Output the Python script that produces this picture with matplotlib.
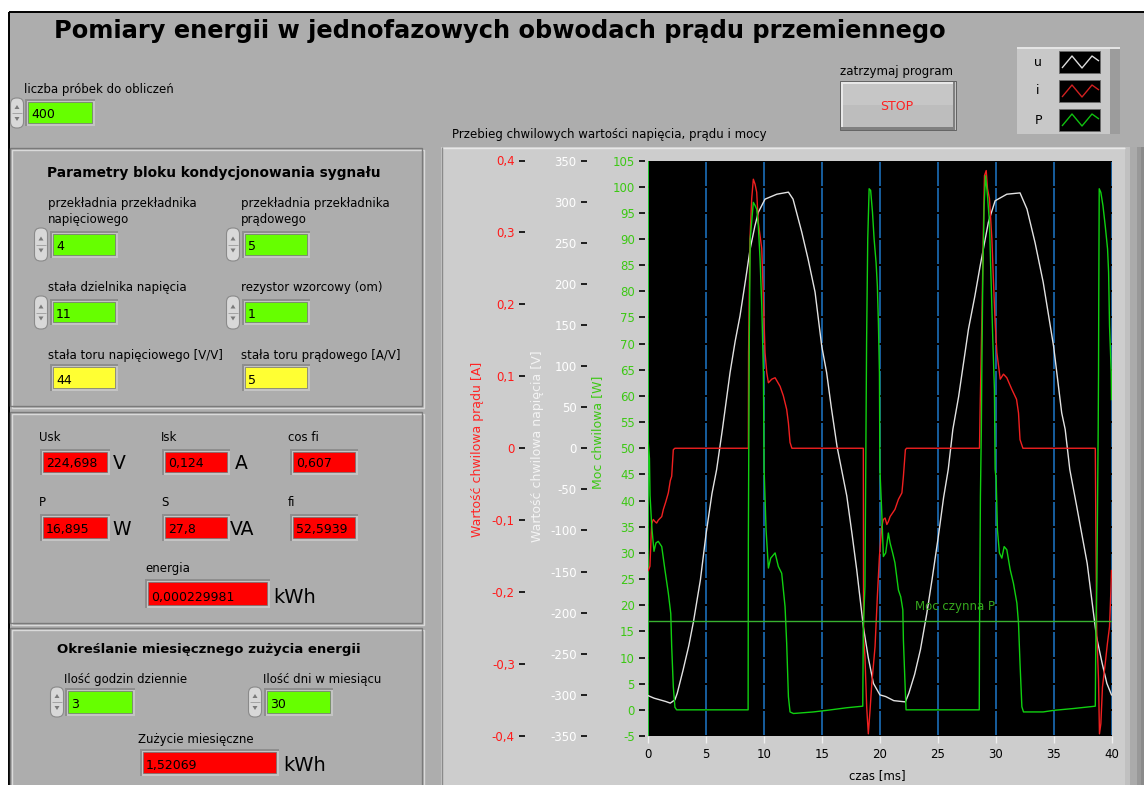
import matplotlib
matplotlib.use('Agg')
import matplotlib.pyplot as plt
from matplotlib.patches import Rectangle, FancyBboxPatch, Polygon
from matplotlib.ticker import MultipleLocator, FuncFormatter

# ---------------- data ----------------
t_u = [0.0, 0.5, 1.0, 1.5, 1.9, 2.3, 2.5, 3.0, 3.5, 3.9, 4.5, 5.0, 5.5, 5.9, 6.4,
       7.06, 7.5, 7.92, 8.4, 8.79, 9.2, 9.5, 10.08, 11.1, 12.1, 12.5, 13.25, 13.8,
       14.4, 14.98, 15.4, 15.8, 16.3, 17.14, 17.6, 18.0, 18.57, 19.0, 19.44, 20.0,
       20.5, 21.2, 22.2, 22.5, 23.0, 23.5, 24.05, 24.5, 25.05, 25.5, 25.9, 26.3,
       26.8, 27.65, 28.2, 28.66, 29.37, 29.95, 30.96, 32.1, 32.7, 33.4, 34.1, 35.0,
       35.7, 36.0, 36.4, 37.0, 37.9, 38.7, 39.2, 39.6, 40.0]
u_vals = [-301, -304, -306, -308, -310, -306, -298, -270, -240, -211, -160, -103, -55, -26, 23,
          92, 130, 161, 205, 242, 270, 287, 303, 309, 311.5, 303, 263, 230,
          190, 124, 92, 50, 2, -58, -105, -148, -217, -255, -286, -300,
          -302, -307, -308.5, -298, -275, -245, -201, -160, -107, -60, -26, 23,
          63, 145, 185, 222, 275, 301, 309, 310.6, 291, 250, 202, 124,
          43, 23, -26, -71, -140, -229, -262, -286, -300]

t_i = [0.0, 0.14, 0.29, 0.43, 0.58, 0.72, 0.86, 1.16, 1.3, 1.5, 1.73, 1.9, 2.02, 2.16, 2.3,
       8.64, 8.66, 8.78, 8.93, 9.07, 9.22, 9.36, 9.5, 9.8, 9.94, 10.08, 10.23, 10.37,
       10.66, 10.95, 11.38, 11.66, 11.95, 12.1, 12.24, 12.4,
       18.57, 18.59, 18.71, 18.86, 19.0, 19.15, 19.3, 19.58, 19.78, 19.96, 20.16, 20.3,
       20.45, 20.6, 20.73, 20.88, 21.3, 21.6, 21.9, 22.03, 22.2, 22.3,
       28.6, 28.66, 28.8, 28.95, 29.03, 29.18, 29.29, 29.46, 29.67, 29.8, 29.95, 30.1,
       30.39, 30.67, 30.96, 31.39, 31.8, 31.97, 32.1, 32.35,
       38.6, 38.65, 38.72, 38.88, 38.96, 39.08, 39.22, 39.46, 39.65, 39.83, 39.95, 40.0]
i_vals = [-0.17, -0.164, -0.105, -0.099, -0.102, -0.104, -0.100, -0.095, -0.085, -0.075, -0.062, -0.045, -0.039, -0.002, 0.0,
          0.0, 0.133, 0.291, 0.347, 0.374, 0.367, 0.356, 0.314, 0.277, 0.207, 0.133, 0.105, 0.091,
          0.096, 0.098, 0.086, 0.073, 0.054, 0.035, 0.008, 0.0,
          0.0, -0.262, -0.29, -0.36, -0.397, -0.364, -0.327, -0.276, -0.206, -0.15, -0.109, -0.099,
          -0.097, -0.106, -0.102, -0.095, -0.085, -0.071, -0.062, -0.039, -0.002, 0.0,
          0.0, 0.059, 0.175, 0.314, 0.379, 0.386, 0.361, 0.347, 0.291, 0.235, 0.175, 0.133,
          0.096, 0.103, 0.098, 0.082, 0.068, 0.049, 0.012, 0.0,
          0.0, -0.113, -0.253, -0.322, -0.397, -0.383, -0.332, -0.299, -0.271, -0.248, -0.197, -0.17]

t_p = [0.0, 0.1, 0.15, 0.3, 0.38, 0.49, 0.66, 0.86, 1.16, 1.44, 1.73, 1.94, 2.02, 2.16, 2.3, 2.45,
       8.62, 8.64, 8.72, 8.8, 9.07, 9.22, 9.36, 9.5, 9.65, 9.8, 9.94, 10.0, 10.17, 10.37, 10.57,
       10.95, 11.23, 11.52, 11.81, 11.95, 12.1, 12.24, 12.53, 14.26, 15.41, 17.14, 18.52,
       18.57, 18.71, 18.8, 18.85, 18.95, 19.07, 19.2, 19.36, 19.5, 19.67, 19.78, 19.87, 19.96,
       20.0, 20.16, 20.3, 20.5, 20.73, 20.88, 21.1, 21.3, 21.6, 21.8, 21.98, 22.03, 22.18, 22.26,
       28.58, 28.6, 28.68, 28.76, 28.8, 28.89, 29.0, 29.12, 29.29, 29.46, 29.58, 29.75, 29.89,
       29.95, 30.04, 30.15, 30.32, 30.53, 30.73, 30.96, 31.25, 31.53, 31.83, 31.97, 32.1, 32.26,
       32.4, 34.1, 35.0, 36.7, 38.6, 38.65, 38.74, 38.8, 38.85, 38.88, 38.9, 38.94, 39.08,
       39.26, 39.46, 39.66, 39.75, 39.83, 39.98, 40.0]
p_vals = [51, 48, 41, 35, 33, 30.3, 31.9, 32.2, 31.2, 26.7, 22.3, 18.4, 12.1, 4.4, 0.5, 0.0,
          0.0, 31.9, 70.8, 90, 97, 96.4, 95.7, 92.5, 86.2, 77.2, 64.4, 46, 34.4, 27.1, 29.0,
          30.0, 27.4, 26.1, 19.7, 12.7, 2.5, -0.4, -0.7, -0.4, -0.1, 0.4, 0.7,
          15.9, 23.6, 53.6, 70.2, 90, 99.6, 99.3, 95.1, 90, 85.5, 81.0, 74.0, 64.4,
          46, 37.7, 29.3, 30.0, 33.8, 31.9, 30.0, 28.1, 22.9, 21.6, 19.1, 13.3, 4.4, 0.0,
          0.0, 14, 40.8, 53.6, 64.4, 83.6, 96.4, 102.1, 98.3, 93.2, 83.6, 70.8, 61.2,
          46, 44, 34.4, 30.0, 29.0, 31.2, 30.6, 26.8, 24.2, 20.4, 16.5, 8.9, 0.6,
          -0.4, -0.4, -0.1, 0.25, 0.7, 14.6, 24.8, 40.8, 53.6, 64.4, 78.5, 99.6, 98.9,
          96.4, 92.5, 88.1, 83.6, 73.4, 64.4, 59.3]

P_active = 16.895

# front panel values
liczba_probek = "400"
przekl_nap = "4"
przekl_prad = "5"
stala_dziel = "11"
rezystor = "1"
stala_u = "44"
stala_i = "5"
Usk = "224,698"
Isk = "0,124"
cos_fi = "0,607"
P_val = "16,895"
S_val = "27,8"
fi_val = "52,5939"
energia = "0,000229981"
godziny = "3"
dni = "30"
zuzycie = "1,52069"

# ---------------- figure ----------------
W, H = 1144, 785
plt.rcParams['font.family'] = ['DejaVu Sans']
fig = plt.figure(figsize=(W / 100, H / 100), dpi=100)
fig.patch.set_facecolor('white')
bg = fig.add_axes([0, 0, 1, 1])
bg.set_xlim(0, W)
bg.set_ylim(H, 0)
bg.axis('off')
renderer = fig.canvas.get_renderer()

PANEL = '#ADADAD'
GREEN = '#66FF00'
YELLOW = '#FFFF33'
RED = '#FF0000'


def R(x0, y0, x1, y1, fc, ec='none', lw=0, z=1):
    bg.add_patch(Rectangle((x0, y0), x1 - x0, y1 - y0, facecolor=fc,
                           edgecolor=ec, linewidth=lw, zorder=z))


def L(xs, ys, c, lw=1.0, z=2):
    bg.plot(xs, ys, color=c, lw=lw, zorder=z, solid_capstyle='butt')


def T(x, y, s, size=8.5, color='black', weight='normal', ha='left',
      va='baseline', z=6, fitw=None, rot=0):
    t = bg.text(x, y, s, fontsize=size, color=color, fontweight=weight,
                ha=ha, va=va, zorder=z, rotation=rot)
    if fitw:
        w = t.get_window_extent(renderer).width
        t.set_fontsize(size * fitw / w)
    return t


def numbox(x0, y0, x1, y1, fc, val):
    R(x0 - 3, y0 - 3, x1 + 3, y1 + 3, '#C4C4C4', z=2)
    R(x0 - 3, y0 - 3, x1 + 3, y0 - 1, '#8E8E8E', z=2)
    R(x0 - 3, y0 - 3, x0 - 1, y1 + 3, '#8E8E8E', z=2)
    R(x0, y0, x1, y1, fc, ec='#707070', lw=0.5, z=3)
    T(x0 + 3, y1 - 4.5, val, size=9)


def spinner(cx, y0, y1):
    w = 13
    bg.add_patch(FancyBboxPatch((cx - w / 2, y0), w, y1 - y0,
                                boxstyle='round,pad=0,rounding_size=6',
                                fc='#D8D8D8', ec='#8A8A8A', lw=0.8, zorder=3))
    ym = (y0 + y1) / 2
    L([cx - 5, cx + 5], [ym, ym], '#9A9A9A', lw=0.6, z=4)
    bg.add_patch(Polygon([[cx - 2.5, ym - 4], [cx + 2.5, ym - 4], [cx, ym - 8]],
                         closed=True, fc='#7A7A7A', ec='none', zorder=4))
    bg.add_patch(Polygon([[cx - 2.5, ym + 4], [cx + 2.5, ym + 4], [cx, ym + 8]],
                         closed=True, fc='#7A7A7A', ec='none', zorder=4))


def groupbox(x0, y0, x1, y1):
    R(x0 + 1.5, y0 + 1.5, x1 + 1.5, y1 + 1.5, 'none', ec='#DADADA', lw=1.0, z=2)
    R(x0, y0, x1, y1, 'none', ec='#7A7A7A', lw=1.0, z=2)


# panel background and border
R(9, 12, W + 5, H + 5, PANEL, z=0)
L([9, 9], [12, H], 'black', lw=1.4)
L([9, W], [12, 12], 'black', lw=1.4)

# title
T(54, 38, "Pomiary energii w jednofazowych obwodach prądu przemiennego",
  size=15, weight='bold', fitw=894)

# number of samples
T(24, 93, "liczba próbek do obliczeń")
spinner(17, 98, 128)
numbox(28, 102, 92, 123, GREEN, liczba_probek)

# group boxes
groupbox(10, 148, 422, 406)
groupbox(10, 412, 422, 623)
groupbox(10, 628, 422, 800)

# box A
T(47, 177, "Parametry bloku kondycjonowania sygnału", size=10, weight='bold', fitw=335)
T(48, 207, "przekładnia przekładnika")
T(48, 223, "napięciowego")
T(241, 207, "przekładnia przekładnika")
T(241, 223, "prądowego")
spinner(41, 228, 261)
numbox(53, 234, 115, 255, GREEN, przekl_nap)
spinner(233, 228, 261)
numbox(245, 234, 307, 255, GREEN, przekl_prad)
T(48, 291, "stała dzielnika napięcia")
T(241, 291, "rezystor wzorcowy (om)")
spinner(41, 296, 329)
numbox(53, 302, 115, 322, GREEN, stala_dziel)
spinner(233, 296, 329)
numbox(245, 302, 307, 322, GREEN, rezystor)
T(48, 359, "stała toru napięciowego [V/V]")
T(241, 359, "stała toru prądowego [A/V]")
numbox(53, 367, 115, 388, YELLOW, stala_u)
numbox(245, 367, 307, 388, YELLOW, stala_i)

# box B
T(39, 441, "Usk")
numbox(43, 452, 107, 472, RED, Usk)
T(113, 469, "V", size=13.5)
T(161, 441, "Isk")
numbox(165, 452, 227, 472, RED, Isk)
T(235, 469, "A", size=13.5)
T(288, 441, "cos fi")
numbox(293, 452, 355, 472, RED, cos_fi)
T(39, 506, "P")
numbox(43, 517, 107, 538, RED, P_val)
T(112, 535, "W", size=13.5)
T(161, 506, "S")
numbox(165, 517, 227, 538, RED, S_val)
T(230, 535, "VA", size=13.5)
T(288, 506, "fi")
numbox(293, 517, 355, 538, RED, fi_val)
T(145, 572, "energia")
numbox(148, 582, 267, 605, RED, energia)
T(273, 603, "kWh", size=14)

# box C
T(57, 653, "Określanie miesięcznego zużycia energii", size=10, weight='bold', fitw=302)
T(64, 683, "Ilość godzin dziennie")
spinner(57, 687, 717)
numbox(68, 691, 132, 713, GREEN, godziny)
T(263, 683, "Ilość dni w miesiącu")
spinner(255, 687, 717)
numbox(267, 691, 330, 713, GREEN, dni)
T(138, 743, "Zużycie miesięczne")
numbox(143, 752, 276, 773, RED, zuzycie)
T(283, 771, "kWh", size=14)

# STOP button
T(840, 75, "zatrzymaj program")
R(840, 81, 956, 130, '#C6C6C6', ec='#555555', lw=0.6, z=2)
R(843, 105, 953, 127, '#BDBDBD', z=2.5)
R(841, 82, 955, 84, '#E8E8E8', z=3)
R(841, 82, 843, 129, '#E8E8E8', z=3)
R(841, 127, 955, 129.5, '#808080', z=3)
R(952.5, 82, 955, 129.5, '#808080', z=3)
T(897, 107, "STOP", size=9, color='#FF2020', ha='center', va='center')

# legend
R(1017, 47, 1120, 134, '#C8C8C8', z=2)
R(1110, 47, 1120, 134, '#9C9C9C', z=3)
R(1017, 47, 1120, 48.5, '#E4E4E4', z=3)
leg_items = [("u", '#DCDCDC'), ("i", '#D02020'), ("P", '#10C010')]
for k, (name, col) in enumerate(leg_items):
    ys0 = 51 + k * 29
    ys1 = ys0 + 22
    T(1038, (ys0 + ys1) / 2, name, size=9, ha='center', va='center')
    R(1059, ys0, 1100, ys1, 'black', ec='#6A6A6A', lw=0.6, z=4)
    xs = [1062, 1072, 1082, 1092, 1099]
    yy = [ys1 - 5, ys0 + 5, ys1 - 5, ys0 + 5, ys0 + 10]
    L(xs, yy, col, lw=1.0, z=5)

# graph frame
R(441, 147, 1125, H + 5, '#CDCDCD', z=1)
L([441, 1125], [147.5, 147.5], '#E8E8E8', lw=1.0)
L([441.5, 441.5], [147, H], '#8A8A8A', lw=1.0)
R(1125, 147, 1130, H + 5, '#C0C0C0', z=1)
R(1130, 147, 1137, H + 5, '#ABABAB', z=1)
R(1137, 147, 1141, H + 5, '#999999', z=1)
R(1141, 147, W + 5, H + 5, '#8A8A8A', z=1)
T(452, 138, "Przebieg chwilowych wartości napięcia, prądu i mocy")

# axis titles
T(478, 449, "Wartość chwilowa prądu [A]", size=9, color='#FF2424', ha='center', va='center', rot=90)
T(538, 446, "Wartość chwilowa napięcia [V]", size=9, color='#F4F4F4', ha='center', va='center', rot=90)
T(598, 432, "Moc chwilowa [W]", size=9, color='#3CC814', ha='center', va='center', rot=90)
T(877, 776, "czas [ms]", size=8.5, ha='center', va='center')

# ---------------- plot ----------------
px0, px1, py0, py1 = 648.3, 1111.5, 160.5, 736.0
ax = fig.add_axes([px0 / W, 1 - py1 / H, (px1 - px0) / W, (py1 - py0) / H])
ax.set_facecolor('black')
ax.set_xlim(0, 40)
ax.set_ylim(-5, 105)
ax.xaxis.set_major_locator(MultipleLocator(5))
ax.yaxis.set_major_locator(MultipleLocator(5))
ax.grid(axis='x', color='#1E78C8', lw=1.1)
ax.grid(axis='y', color='black', lw=1.4)
for s in ['top', 'right', 'bottom']:
    ax.spines[s].set_visible(False)
ax.spines['left'].set_position(('outward', 2.4))
ax.spines['left'].set_edgecolor('none')
ax.axvline(0, color='#22CC22', lw=1.3, zorder=3)
ax.tick_params(axis='y', direction='out', length=4.5, width=1.2, color='black',
               labelcolor='#3CC814', labelsize=8.5, pad=2.8)
ax.tick_params(axis='x', direction='out', length=5, width=1.0, color='#F0F0F0',
               labelcolor='black', labelsize=8.5, pad=3.5)
ax.yaxis.set_major_formatter(FuncFormatter(lambda v, _: f"{v:.0f}"))
ax.xaxis.set_major_formatter(FuncFormatter(lambda v, _: f"{v:.0f}"))


def make_twin(lo, hi, step, outward_px, labelcolor, fmt):
    a = ax.twinx()
    a.set_ylim(lo, hi)
    for s in ['top', 'right', 'bottom']:
        a.spines[s].set_visible(False)
    a.yaxis.set_ticks_position('left')
    a.spines['left'].set_position(('outward', outward_px * 0.72))
    a.spines['left'].set_edgecolor('none')
    if step:
        a.yaxis.set_major_locator(MultipleLocator(step))
        a.yaxis.set_major_formatter(FuncFormatter(fmt))
        a.tick_params(axis='y', direction='out', length=4.5, width=1.2, color='black',
                      labelcolor=labelcolor, labelsize=8.5, pad=2.8)
    else:
        a.set_yticks([])
    return a


ax_u = make_twin(-350, 350, 50, 61.6, '#FFFFFF', lambda v, _: f"{v:.0f}")
ax_i = make_twin(-0.4, 0.4, 0.1, 123.3, '#FF1A1A',
                 lambda v, _: "0" if abs(v) < 1e-9 else f"{v:.1f}".replace('.', ','))
ax_p = make_twin(-5, 105, None, 0, 'black', None)

ax_u.plot(t_u, u_vals, color='#E2E2E2', lw=1.0)
ax_i.plot(t_i, i_vals, color='#F02020', lw=1.0)
ax_p.plot(t_p, p_vals, color='#10D010', lw=1.0)
ax_p.axhline(P_active, color='#38B030', lw=1.0)
ax_p.text(23.0, 19.7, "Moc czynna P", color='#36A81E', fontsize=8.5, ha='left', va='center')
for a in (ax_u, ax_i, ax_p):
    a.set_xlim(0, 40)

fig.savefig('out.png', dpi=100, facecolor=fig.get_facecolor())
